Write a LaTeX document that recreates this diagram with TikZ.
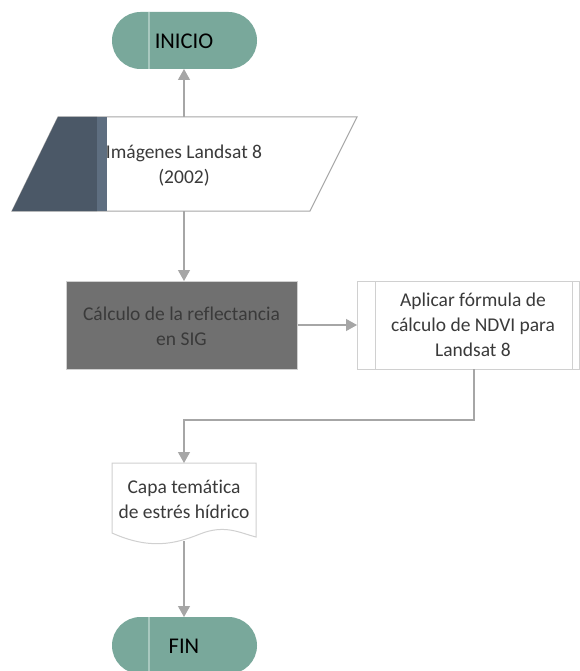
\documentclass[tikz,border=0pt]{standalone}
\usepackage{fontspec}
\setmainfont{Carlito}[Ligatures=NoCommon]
\usetikzlibrary{arrows.meta}
\definecolor{teal}{HTML}{79A89B}
\definecolor{teallight}{HTML}{A8C8BF}
\definecolor{slate}{HTML}{4B5867}
\definecolor{slateband}{HTML}{5E6E80}
\definecolor{boxgray}{HTML}{707070}
\definecolor{linegray}{HTML}{A6A6A6}
\definecolor{bordergray}{HTML}{D0D0D0}
\definecolor{txt}{HTML}{3A3A3A}
\tikzset{
  conn/.style={draw=linegray, line width=1.2pt},
  arr/.style={conn, -{Triangle[length=11pt,width=12pt]}},
  txtnode/.style={inner sep=0pt, align=center, text=txt, font=\fontsize{19.5}{25}\selectfont},
  termtxt/.style={inner sep=0pt, text=black, font=\fontsize{22.5}{26}\selectfont},
  pill/.style={fill=teal, rounded corners=28.5pt},
  pillline/.style={teallight, line width=2pt},
}
\begin{document}
\begin{tikzpicture}[x=1pt,y=-1pt]
\useasboundingbox[fill=white] (0,0) rectangle (580,671);
% INICIO terminator
\fill[pill] (112,12) rectangle (257,69);
\draw[pillline] (149,12) -- (149,69);
\node[termtxt] (inicio) at (184,41) {INICIO};
\coordinate (inicioB) at (184,69);
% Parallelogram
\draw[fill=white, draw=linegray, line width=1pt] (58,117) -- (357,117) -- (310,211) -- (12,211) -- cycle;
\fill[slate] (58,117) -- (97,117) -- (97,211) -- (12,211) -- cycle;
\fill[slateband] (97,117) rectangle (107,211);
\node[txtnode] (img) at (184,166) {Imágenes Landsat 8\\(2002)};
\coordinate (imgT) at (184,117);
\coordinate (imgB) at (184,211);
% Gray rectangle
\node[draw=bordergray, fill=boxgray, minimum width=231pt, minimum height=88pt, inner sep=0pt, line width=1pt] (calc) at (181.5,325) {};
\node[txtnode] at (181.5,326) {Cálculo de la reflectancia\\en SIG};
% Right process box
\draw[draw=bordergray, line width=1pt] (357,281) rectangle (579,369);
\draw[draw=bordergray, line width=1pt] (375,281) -- (375,369) (572,281) -- (572,369);
\node[inner sep=0pt, minimum width=222pt, minimum height=88pt] (ndvi) at (468,325) {};
\node[txtnode] at (473,325) {Aplicar fórmula de\\cálculo de NDVI para\\Landsat 8};
\coordinate (ndviB) at (474,369);
% Document shape
\draw[draw=bordergray, fill=white, line width=1pt] (112,463) -- (256,463) -- (256,537)
  .. controls (240,533) and (225,524) .. (200,534)
  .. controls (175,544) and (150,550) .. (112,533) -- cycle;
\node[txtnode] (capa) at (184,499) {Capa temática\\de estrés hídrico};
\coordinate (capaT) at (184,463);
\coordinate (capaB) at (184,541);
% FIN terminator
\fill[pill] (112,617) rectangle (257,674);
\draw[pillline] (149,617) -- (149,674);
\node[termtxt] (fin) at (184,646) {FIN};
\coordinate (finT) at (184,617);
% Connectors
\draw[arr] (imgT) -- (inicioB);
\draw[arr] (imgB) -- (184,281);
\draw[arr] (calc.east) -- (357,325);
\draw[arr] (ndviB) -- (474,420) -- (184,420) -- (capaT);
\draw[arr] (capaB) -- (finT);
\end{tikzpicture}
\end{document}
